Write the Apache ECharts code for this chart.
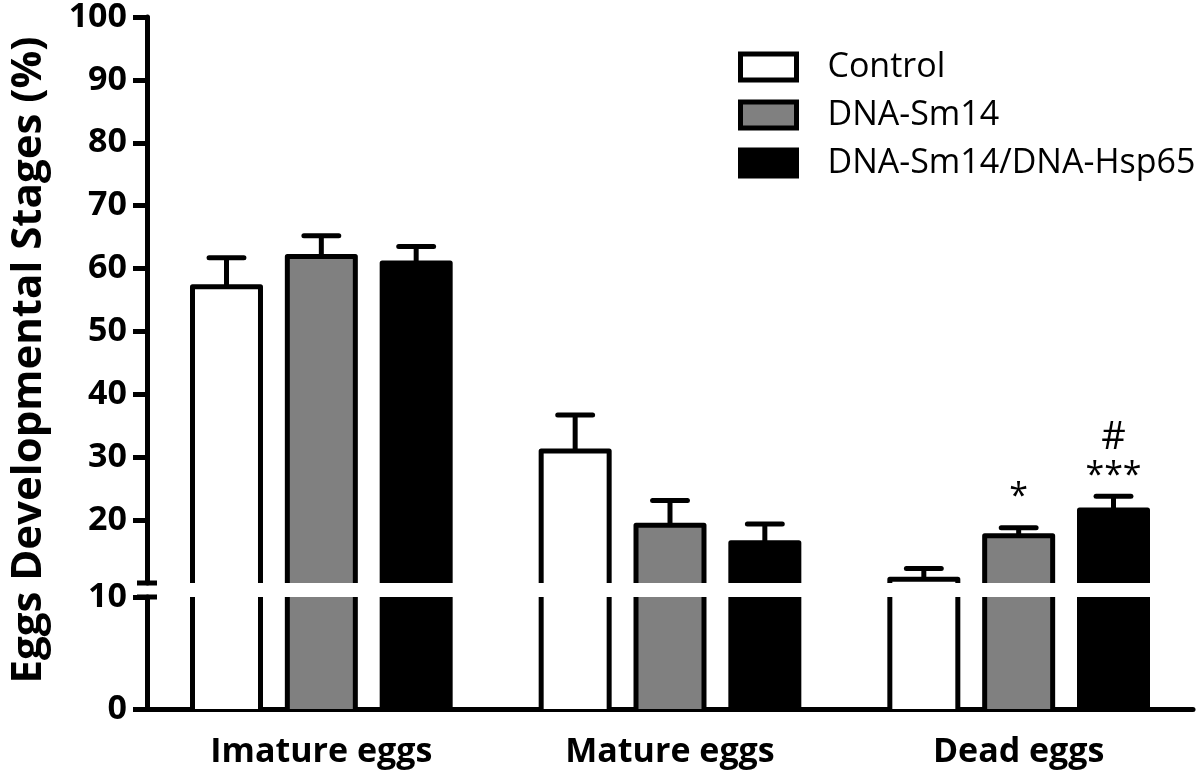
<!DOCTYPE html>
<html>
<head>
<meta charset="utf-8">
<script src="https://cdn.jsdelivr.net/npm/echarts@6/dist/echarts.min.js"></script>
<style>
  html, body { margin: 0; padding: 0; background: #fff; }
  #chart { width: 1200px; height: 778px; }
</style>
</head>
<body>
<div id="chart"></div>
<script>
// data
const categories = ['Imature eggs', 'Mature eggs', 'Dead eggs'];
const groups = ['Control', 'DNA-Sm14', 'DNA-Sm14/DNA-Hsp65'];
const controlMean = [57.1, 31.0, 10.6];
const controlErr = [4.6, 5.7, 1.7];
const sm14Mean = [61.9, 19.2, 17.5];
const sm14Err = [3.3, 3.9, 1.3];
const comboMean = [60.9, 16.4, 21.6];
const comboErr = [2.6, 3.0, 2.2];
const sm14Marks = ['', '', '*'];
const comboMarks = ['', '', '***'];
const comboHash = ['', '', '#'];
const upperTicks = [20, 30, 40, 50, 60, 70, 80, 90, 100];
const lowerTicks = [0, 10];
const breakValue = 10;

const FONT = '"Open Sans", "Liberation Sans", sans-serif';
const fills = ['#ffffff', '#808080', '#000000'];
const means = [controlMean, sm14Mean, comboMean];
const errs = [controlErr, sm14Err, comboErr];
const starMarks = [['', '', ''], sm14Marks, comboMarks];
const hashMarks = [['', '', ''], ['', '', ''], comboHash];

const chart = echarts.init(document.getElementById('chart'));

const lineStyle = { stroke: '#000', lineWidth: 5, lineJoin: 'round' };

// bar part above the break, plus error bar and significance marks
function upperBar(slot) {
  return function (params, api) {
    const i = api.value(0), v = api.value(1), e = api.value(2);
    const band = api.size([1, 0])[0];
    const w = band * 0.195;
    const cap = band * 0.1;
    const top = api.coord([i, v]);
    const cx = top[0] + (slot - 1) * band * 0.272;
    const yv = top[1];
    const yb = api.coord([i, breakValue])[1];
    const ye = api.coord([i, v + e])[1];
    const x0 = cx - w / 2, x1 = cx + w / 2;
    const children = [
      { type: 'rect', shape: { x: x0, y: yv, width: w, height: yb - yv }, style: { fill: fills[slot] } },
      { type: 'line', shape: { x1: cx, y1: yv, x2: cx, y2: ye }, style: lineStyle },
      { type: 'line', shape: { x1: cx - cap / 2, y1: ye, x2: cx + cap / 2, y2: ye },
        style: Object.assign({}, lineStyle, { lineCap: 'round' }) },
      { type: 'polyline', shape: { points: [[x0, yb], [x0, yv], [x1, yv], [x1, yb]] },
        style: Object.assign({ fill: null }, lineStyle) }
    ];
    const star = starMarks[slot][params.dataIndex];
    if (star) {
      children.push({ type: 'text', x: cx, y: ye - (star.length > 1 ? 20 : 30),
        style: { text: star, fill: '#000', font: '34px ' + FONT, align: 'center', verticalAlign: 'middle' } });
    }
    const hash = hashMarks[slot][params.dataIndex];
    if (hash) {
      children.push({ type: 'text', x: cx, y: ye - 58,
        style: { text: hash, fill: '#000', font: '38px ' + FONT, align: 'center', verticalAlign: 'middle' } });
    }
    return { type: 'group', children: children };
  };
}

// bar part below the break: fill and side lines only
function lowerBar(slot) {
  return function (params, api) {
    const i = api.value(0), v = Math.min(api.value(1), breakValue);
    const band = api.size([1, 0])[0];
    const w = band * 0.195;
    const top = api.coord([i, v]);
    const cx = top[0] + (slot - 1) * band * 0.272;
    const yb = api.coord([i, 0])[1];
    const x0 = cx - w / 2, x1 = cx + w / 2;
    return {
      type: 'group',
      children: [
        { type: 'rect', shape: { x: x0, y: top[1], width: w, height: yb - top[1] }, style: { fill: fills[slot] } },
        { type: 'line', shape: { x1: x0, y1: top[1], x2: x0, y2: yb }, style: lineStyle },
        { type: 'line', shape: { x1: x1, y1: top[1], x2: x1, y2: yb }, style: lineStyle }
      ]
    };
  };
}

// short marks across the y axis at the break
function breakMark(params, api) {
  const y = api.coord([0, breakValue])[1];
  const x = params.coordSys.x;
  return { type: 'line', shape: { x1: x - 10, y1: y, x2: x + 10, y2: y }, style: lineStyle };
}

const series = [];
groups.forEach(function (g, s) {
  const data = categories.map(function (c, i) { return [i, means[s][i], errs[s][i]]; });
  series.push({ name: g, type: 'custom', xAxisIndex: 0, yAxisIndex: 0, renderItem: upperBar(s),
    encode: { x: 0, y: 1 }, data: data, clip: false, z: 3,
    itemStyle: { color: fills[s], borderColor: '#000', borderWidth: 5 } });
  series.push({ name: g, type: 'custom', xAxisIndex: 1, yAxisIndex: 1, renderItem: lowerBar(s),
    encode: { x: 0, y: 1 }, data: data, clip: false, z: 3,
    itemStyle: { color: fills[s], borderColor: '#000', borderWidth: 5 } });
});
series.push({ type: 'custom', xAxisIndex: 0, yAxisIndex: 0, renderItem: breakMark, data: [[0, breakValue]], z: 5, silent: true });
series.push({ type: 'custom', xAxisIndex: 1, yAxisIndex: 1, renderItem: breakMark, data: [[0, breakValue]], z: 5, silent: true });

const yLabel = { color: '#000', fontFamily: FONT, fontWeight: 'bold', fontSize: 34, margin: 20 };

chart.setOption({
  animation: false,
  backgroundColor: '#fff',
  grid: [
    { left: 147, top: 15, width: 1046, height: 568 },
    { left: 147, top: 597, width: 1046, height: 112 }
  ],
  legend: {
    left: 738, top: 50, orient: 'vertical', selectedMode: false, padding: 0,
    itemWidth: 56, itemHeight: 26, itemGap: 14,
    textStyle: { color: '#000', fontFamily: FONT, fontSize: 34, padding: [0, 0, 0, 26] },
    data: groups.map(function (g, s) {
      return { name: g, icon: 'rect', itemStyle: { color: fills[s], borderColor: '#000', borderWidth: 5 } };
    })
  },
  xAxis: [
    { type: 'category', gridIndex: 0, data: categories, show: false },
    { type: 'category', gridIndex: 1, data: categories,
      axisLine: { lineStyle: { color: '#000', width: 5 } },
      axisTick: { alignWithLabel: true, length: 15, lineStyle: { color: '#000', width: 5 } },
      axisLabel: { color: '#000', fontFamily: FONT, fontWeight: 'bold', fontSize: 34, margin: 26 } }
  ],
  yAxis: [
    { type: 'value', gridIndex: 0, min: breakValue, max: 100, interval: 10,
      splitLine: { show: false },
      axisLine: { show: true, lineStyle: { color: '#000', width: 5 } },
      axisTick: { show: true, length: 14, customValues: upperTicks, lineStyle: { color: '#000', width: 5 } },
      axisLabel: Object.assign({ customValues: upperTicks }, yLabel) },
    { type: 'value', gridIndex: 1, min: 0, max: breakValue, interval: 10,
      splitLine: { show: false },
      axisLine: { show: true, lineStyle: { color: '#000', width: 5 } },
      axisTick: { show: true, length: 14, customValues: lowerTicks, lineStyle: { color: '#000', width: 5 } },
      axisLabel: Object.assign({ customValues: lowerTicks }, yLabel) }
  ],
  graphic: [{
    type: 'text', x: 29, y: 360, rotation: Math.PI / 2,
    style: { text: 'Eggs Developmental Stages (%)', fill: '#000', font: 'bold 42px ' + FONT,
      align: 'center', verticalAlign: 'middle' }
  }],
  series: series
});
</script>
</body>
</html>
